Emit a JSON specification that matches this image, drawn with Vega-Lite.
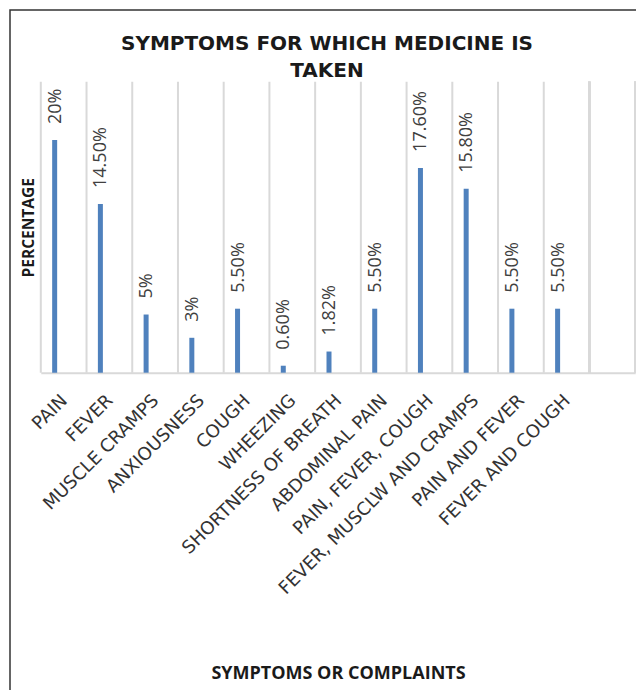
{
  "$schema": "https://vega.github.io/schema/vega-lite/v6.json",
  "autosize": "none",
  "padding": {"left": 10, "top": 10, "right": -2, "bottom": -2},
  "width": 628,
  "height": 682,
  "background": "white",
  "config": {"view": {"stroke": "#333333", "strokeWidth": 1.5}},
  "title": {
    "text": ["SYMPTOMS FOR WHICH MEDICINE IS", "TAKEN"],
    "font": "DejaVu Sans",
    "fontSize": 20,
    "fontWeight": "bold",
    "color": "#1a1a1a",
    "anchor": "middle",
    "frame": "group",
    "lineHeight": 27,
    "baseline": "top",
    "offset": -71,
    "dx": 3
  },
  "data": {
    "values": [
      {"symptom": "PAIN", "pct": 20, "label": "20%"},
      {"symptom": "FEVER", "pct": 14.5, "label": "14.50%"},
      {"symptom": "MUSCLE CRAMPS", "pct": 5, "label": "5%"},
      {"symptom": "ANXIOUSNESS", "pct": 3, "label": "3%"},
      {"symptom": "COUGH", "pct": 5.5, "label": "5.50%"},
      {"symptom": "WHEEZING", "pct": 0.6, "label": "0.60%"},
      {"symptom": "SHORTNESS OF BREATH", "pct": 1.82, "label": "1.82%"},
      {"symptom": "ABDOMINAL PAIN", "pct": 5.5, "label": "5.50%"},
      {"symptom": "PAIN, FEVER, COUGH", "pct": 17.6, "label": "17.60%"},
      {"symptom": "FEVER, MUSCLW AND CRAMPS", "pct": 15.8, "label": "15.80%"},
      {"symptom": "PAIN AND FEVER", "pct": 5.5, "label": "5.50%"},
      {"symptom": "FEVER AND COUGH", "pct": 5.5, "label": "5.50%"}
    ]
  },
  "encoding": {
    "x": {
      "field": "symptom",
      "type": "nominal",
      "sort": null,
      "scale": {
        "domain": ["PAIN", "FEVER", "MUSCLE CRAMPS", "ANXIOUSNESS", "COUGH", "WHEEZING", "SHORTNESS OF BREATH", "ABDOMINAL PAIN", "PAIN, FEVER, COUGH", "FEVER, MUSCLW AND CRAMPS", "PAIN AND FEVER", "FEVER AND COUGH", " "],
        "range": [30.8, 625.2],
        "paddingInner": 0,
        "paddingOuter": 0
      },
      "axis": {
        "title": "SYMPTOMS OR COMPLAINTS",
        "offset": -319.3,
        "grid": false,
        "domainColor": "#d9d9d9",
        "domainWidth": 2,
        "ticks": false,
        "tickSize": 0,
        "labelAngle": -45,
        "labelAlign": "right",
        "labelBaseline": "middle",
        "labelPadding": 25,
        "labelOffset": 1,
        "labelFont": "DejaVu Sans",
        "labelFontSize": 18,
        "labelColor": "#333333",
        "labelLimit": 400,
        "labelOverlap": false,
        "titleFont": "Open Sans",
        "titleFontWeight": "bold",
        "titleFontSize": 18,
        "titleColor": "#1a1a1a",
        "titleY": 305.3,
        "titleBaseline": "alphabetic"
      }
    },
    "y": {
      "field": "pct",
      "type": "quantitative",
      "scale": {"domain": [0, 25], "range": [362.7, 71.8], "nice": false, "zero": true},
      "axis": {
        "title": "PERCENTAGE",
        "labels": false,
        "ticks": false,
        "domain": false,
        "grid": false,
        "titleX": 23.3,
        "titleAngle": -90,
        "titleBaseline": "alphabetic",
        "titleAlign": "center",
        "titleFont": "Open Sans",
        "titleFontWeight": "bold",
        "titleFontSize": 15.5,
        "titleColor": "#1a1a1a"
      }
    }
  },
  "layer": [
    {
      "mark": {"type": "rule", "color": "#d9d9d9", "strokeWidth": 2},
      "encoding": {
        "x": {"field": "symptom", "type": "nominal", "bandPosition": 0},
        "y": {"datum": 0},
        "y2": {"datum": 25}
      }
    },
    {
      "mark": {"type": "rule", "color": "#d9d9d9", "strokeWidth": 2},
      "encoding": {
        "x": {"datum": " ", "type": "nominal", "bandPosition": 0},
        "y": {"datum": 0},
        "y2": {"datum": 25}
      }
    },
    {
      "mark": {"type": "rule", "color": "#d9d9d9", "strokeWidth": 2},
      "encoding": {
        "x": {"datum": " ", "type": "nominal", "bandPosition": 1},
        "y": {"datum": 0},
        "y2": {"datum": 25}
      }
    },
    {"mark": {"type": "bar", "width": 5, "xOffset": -9, "color": "#4f81bd"}},
    {
      "mark": {"type": "text", "angle": 270, "align": "left", "baseline": "middle", "yOffset": -16, "xOffset": -8, "font": "Open Sans", "fontSize": 18, "color": "#404040"},
      "encoding": {"text": {"field": "label", "type": "nominal"}}
    }
  ]
}
